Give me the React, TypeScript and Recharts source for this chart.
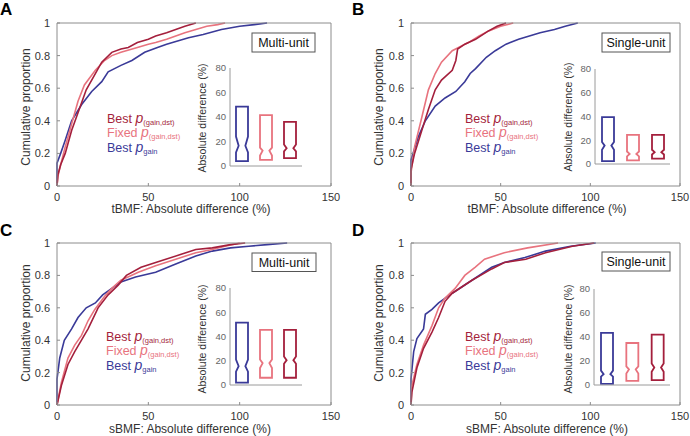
import React from 'react';
import { LineChart, Line, XAxis, YAxis, BarChart, Bar } from 'recharts';

const BLUE = '#3a3a98';
const PINK = '#e8737e';
const RED = '#a41f3c';
const AX = '#8c8c8c';
const TXT = '#333333';
const FONT = '"Liberation Sans", Arial, Helvetica, sans-serif';

// cumulative proportions, [abs difference %, proportion]
const aBestDst = [[0,0],[0.5,0.07],[2,0.13],[4.5,0.2],[8,0.34],[11.5,0.45],[16,0.59],[21,0.69],[24.5,0.76],[30,0.82],[35,0.84],[39,0.85],[44,0.88],[50,0.9],[54,0.92],[60,0.94],[65,0.96],[70,0.98],[76,1]];
const aFixedDst = [[0,0],[0.5,0.06],[2,0.13],[4.5,0.24],[8,0.38],[11.5,0.52],[15,0.62],[21,0.71],[26,0.77],[30,0.8],[35,0.82],[44,0.85],[50,0.87],[54,0.88],[60,0.9],[65,0.92],[70,0.94],[76,0.96],[82,0.98],[88,0.99],[92,1]];
const aBestGain = [[0,0],[0,0.14],[2,0.2],[4.5,0.28],[8,0.4],[13.5,0.5],[19,0.58],[24.5,0.64],[28,0.7],[35,0.74],[41,0.77],[48,0.82],[55,0.85],[60,0.87],[66,0.89],[72,0.91],[80,0.93],[90,0.96],[100,0.98],[108,0.99],[115,1]];

const bBestDst = [[0,0],[0,0.1],[2,0.2],[6,0.34],[9.7,0.47],[13.5,0.59],[17,0.65],[23,0.71],[25,0.77],[26,0.84],[30,0.87],[36,0.9],[43,0.95],[48,0.98],[53,1]];
const bFixedDst = [[0,0],[0,0.08],[2,0.24],[6,0.42],[9.7,0.59],[13.5,0.69],[17,0.76],[23,0.83],[32,0.88],[38,0.92],[43,0.95],[50,0.98],[57,1]];
const bBestGain = [[0,0],[0,0.16],[2,0.23],[4,0.3],[8,0.4],[13.5,0.49],[19,0.54],[25,0.58],[30,0.64],[33,0.69],[36,0.72],[42,0.79],[47,0.83],[53,0.87],[60,0.9],[66,0.92],[72,0.94],[80,0.96],[86,0.98],[93,1]];

const cBestDst = [[0,0],[2.4,0.12],[6,0.25],[9.7,0.33],[13.4,0.4],[17,0.47],[22.5,0.6],[28,0.68],[33.5,0.74],[38,0.8],[46,0.85],[57,0.89],[68,0.93],[76,0.96],[85,0.97],[95,0.99],[103,1]];
const cFixedDst = [[0,0],[2.4,0.14],[6,0.29],[9.7,0.37],[13.4,0.43],[17,0.52],[20.7,0.59],[26,0.67],[30,0.72],[35,0.77],[44.5,0.82],[54,0.86],[65,0.9],[76,0.94],[85,0.96],[92,0.98],[100,1]];
const cBestGain = [[0,0],[0,0.16],[1.5,0.29],[4,0.4],[8,0.47],[11.5,0.54],[16,0.6],[21,0.63],[25,0.68],[30,0.72],[35,0.76],[43,0.79],[54,0.82],[65,0.87],[76,0.92],[85,0.95],[95,0.97],[105,0.98],[115,0.99],[126,1]];

const dBestDst = [[0,0],[0.5,0.08],[3.3,0.23],[7,0.35],[11.7,0.45],[15.4,0.54],[19,0.64],[23,0.69],[34,0.77],[45,0.84],[52,0.88],[64,0.9],[75,0.94],[90,0.98],[102,1]];
const dFixedDst = [[0,0],[0.5,0.12],[3.3,0.25],[7,0.37],[11.7,0.49],[15.4,0.6],[19,0.66],[24.6,0.72],[30,0.8],[35.7,0.85],[41,0.9],[52,0.94],[65,0.97],[82,1]];
const dBestGain = [[0,0],[0,0.16],[1.5,0.33],[3.3,0.41],[7,0.47],[8,0.56],[11.7,0.59],[15.4,0.63],[23,0.69],[34,0.77],[45,0.85],[52,0.88],[63.5,0.91],[75,0.95],[89,0.98],[103,1]];

// notched boxes: [low, notch low, median, notch high, high], order: best gain, fixed dst, best dst
const aBoxes = [[4,11,16.5,24,48.5],[5,8.5,12.5,15,41.5],[6.5,12,14.5,17.5,36]];
const bBoxes = [[2.5,12,15.5,18.5,39.5],[3,6.5,8.5,10.5,24.5],[4.5,8,10,12,24.5]];
const cBoxes = [[2,11,15.5,21,51.5],[6,14,18,21,45.5],[6,17.5,20.5,23.5,45.5]];
const dBoxes = [[1,7,9,12,43.5],[3.5,9.5,13,15.5,35],[4,11,14.5,18,42]];

const xTicks = [0, 50, 100, 150];
const yTicks = [0, 0.2, 0.4, 0.6, 0.8, 1];
const insetTicks = [0, 20, 40, 60, 80];
const boxNames = ['Best p gain', 'Fixed p gain,dst', 'Best p gain,dst'];
const legendWords = ['Best', 'Fixed', 'Best'];
const legendSubs = ['(gain,dst)', '(gain,dst)', 'gain'];
const legendColors = [RED, PINK, BLUE];
const boxColors = [BLUE, PINK, RED];

const toPts = (a: number[][]) => a.map(([x, y]) => ({ x, y }));

const PANELS = [
  {
    letter: 'A', unitLabel: 'Multi-unit', xTitle: 'tBMF: Absolute difference (%)',
    series: [aBestGain, aFixedDst, aBestDst], boxes: aBoxes,
    box: { x: 0, y: 0 }, plot: { l: 57, r: 331, t: 23, b: 186 },
    inset: { l: 230, r: 302, t: 68, b: 166 }, tag: { x: 252, y: 33, w: 63, h: 19 },
    letterPos: [0, 15], yTitle: [30, 107], xTitlePos: [191, 213], insetTitle: [206, 118], legend: [107, 123],
  },
  {
    letter: 'B', unitLabel: 'Single-unit', xTitle: 'tBMF: Absolute difference (%)',
    series: [bBestGain, bFixedDst, bBestDst], boxes: bBoxes,
    box: { x: 345, y: 0 }, plot: { l: 411, r: 680, t: 23, b: 186 },
    inset: { l: 595, r: 670, t: 69, b: 164 }, tag: { x: 602, y: 33, w: 68, h: 19 },
    letterPos: [352, 15], yTitle: [383, 107], xTitlePos: [547, 213], insetTitle: [572, 117], legend: [465, 123],
  },
  {
    letter: 'C', unitLabel: 'Multi-unit', xTitle: 'sBMF: Absolute difference (%)',
    series: [cBestGain, cFixedDst, cBestDst], boxes: cBoxes,
    box: { x: 0, y: 218 }, plot: { l: 57, r: 331, t: 243, b: 405 },
    inset: { l: 230, r: 302, t: 288, b: 385 }, tag: { x: 252, y: 253, w: 64, h: 18.5 },
    letterPos: [0, 236], yTitle: [30, 323], xTitlePos: [190, 432.5], insetTitle: [206, 339], legend: [106, 341],
  },
  {
    letter: 'D', unitLabel: 'Single-unit', xTitle: 'sBMF: Absolute difference (%)',
    series: [dBestGain, dFixedDst, dBestDst], boxes: dBoxes,
    box: { x: 345, y: 218 }, plot: { l: 411, r: 680, t: 243, b: 405 },
    inset: { l: 594, r: 670, t: 289, b: 385 }, tag: { x: 602, y: 252, w: 68, h: 19 },
    letterPos: [352, 236], yTitle: [383, 323], xTitlePos: [547, 432.5], insetTitle: [572, 339], legend: [465, 341],
  },
];

const NotchBox = (props: any) => {
  const { x, y, width, height, payload, index } = props;
  const [lo, nLo, med, nHi, hi] = payload.v;
  const k = height / (hi - lo);
  const py = (v: number) => y + (hi - v) * k;
  const d = width * 0.22;
  const path = `M${x},${y} H${x + width} V${py(nHi)} L${x + width - d},${py(med)} L${x + width},${py(nLo)} V${y + height} H${x} V${py(nLo)} L${x + d},${py(med)} L${x},${py(nHi)} Z`;
  return <path d={path} fill="none" stroke={boxColors[index]} strokeWidth={1.8} strokeLinejoin="miter" />;
};

function Panel({ p }: { p: any }) {
  const W = 345;
  const H = 218;
  const { box, plot, inset } = p;
  const tickStyle = { fill: TXT, fontSize: 11, fontFamily: FONT };
  const boxData = p.boxes.map((v: number[], i: number) => ({ name: boxNames[i], v }));
  // axes are 1px thick, so margins are 1px smaller than the plot offsets
  return (
    <>
      <div style={{ position: 'absolute', left: box.x, top: box.y }}>
        <LineChart
          width={W}
          height={H}
          margin={{
            top: plot.t - box.y - 1,
            left: plot.l - box.x - 1,
            right: box.x + W - plot.r - 1,
            bottom: box.y + H - plot.b - 1,
          }}
        >
          <XAxis xAxisId="b" type="number" dataKey="x" domain={[0, 150]} ticks={xTicks} height={1}
            tickSize={-3} tickMargin={10} stroke={AX} tick={tickStyle} />
          <XAxis xAxisId="t" orientation="top" type="number" dataKey="x" domain={[0, 150]} ticks={xTicks}
            height={1} tickSize={-3} tick={false} stroke={AX} />
          <YAxis yAxisId="l" type="number" domain={[0, 1]} ticks={yTicks} width={1}
            tickSize={-3} tickMargin={10} stroke={AX} tick={tickStyle} />
          <YAxis yAxisId="r" orientation="right" type="number" domain={[0, 1]} ticks={yTicks} width={1}
            tickSize={-3} tick={false} stroke={AX} />
          {p.series.map((s: number[][], i: number) => (
            <Line key={i} xAxisId="b" yAxisId="l" data={toPts(s)} dataKey="y" type="linear"
              stroke={boxColors[i]} strokeWidth={1.6} dot={false} isAnimationActive={false} />
          ))}
        </LineChart>
      </div>
      <div style={{ position: 'absolute', left: inset.l - 30, top: inset.t - 10 }}>
        <BarChart
          width={inset.r - inset.l + 40}
          height={inset.b - inset.t + 20}
          data={boxData}
          margin={{ top: 10, left: 29, right: 10, bottom: 9 }}
        >
          <XAxis dataKey="name" height={1} tick={false} tickLine={false} stroke="#9a9a9a" />
          <YAxis type="number" domain={[0, 80]} ticks={insetTicks} width={1} tickSize={0} tickMargin={4}
            tickLine={false} stroke="#9a9a9a" tick={{ fill: '#666', fontSize: 9.5, fontFamily: FONT }} />
          <Bar dataKey={(d: any) => [d.v[0], d.v[4]]} barSize={12} shape={(props: any) => <NotchBox {...props} />}
            isAnimationActive={false} />
        </BarChart>
      </div>
    </>
  );
}

function PanelText({ p }: { p: any }) {
  return (
    <g fontFamily={FONT}>
      <text x={p.letterPos[0]} y={p.letterPos[1]} fontSize={17} fontWeight="bold" fill="#000">{p.letter}</text>
      <text transform={`translate(${p.yTitle[0]},${p.yTitle[1]}) rotate(-90)`} textAnchor="middle" fontSize={12} fill={TXT}>
        Cumulative proportion
      </text>
      <text x={p.xTitlePos[0]} y={p.xTitlePos[1]} textAnchor="middle" fontSize={12} fill={TXT}>{p.xTitle}</text>
      <text transform={`translate(${p.insetTitle[0]},${p.insetTitle[1]}) rotate(-90)`} textAnchor="middle" fontSize={10.5} fill={TXT}>
        Absolute difference (%)
      </text>
      <rect x={p.tag.x} y={p.tag.y} width={p.tag.w} height={p.tag.h} fill="#fff" stroke="#555" strokeWidth={1} />
      <text x={p.tag.x + p.tag.w / 2} y={p.tag.y + p.tag.h / 2 + 4.5} textAnchor="middle" fontSize={12.5} fill="#111">
        {p.unitLabel}
      </text>
      {legendWords.map((w, i) => (
        <text key={i} x={p.legend[0]} y={p.legend[1] + i * 14.3} fill={legendColors[i]} fontSize={12.5}>
          {w}{' '}
          <tspan fontStyle="italic" fontSize={14}>p</tspan>
          <tspan fontSize={7.5} dy={2}>{legendSubs[i]}</tspan>
        </text>
      ))}
    </g>
  );
}

export default function App() {
  return (
    <div style={{ position: 'absolute', left: 0, top: 0, width: 690, height: 436, background: '#fff', overflow: 'hidden' }}>
      {PANELS.map((p) => (
        <Panel key={p.letter} p={p} />
      ))}
      <svg width={690} height={436} style={{ position: 'absolute', left: 0, top: 0, pointerEvents: 'none' }}>
        {PANELS.map((p) => (
          <PanelText key={p.letter} p={p} />
        ))}
      </svg>
    </div>
  );
}
